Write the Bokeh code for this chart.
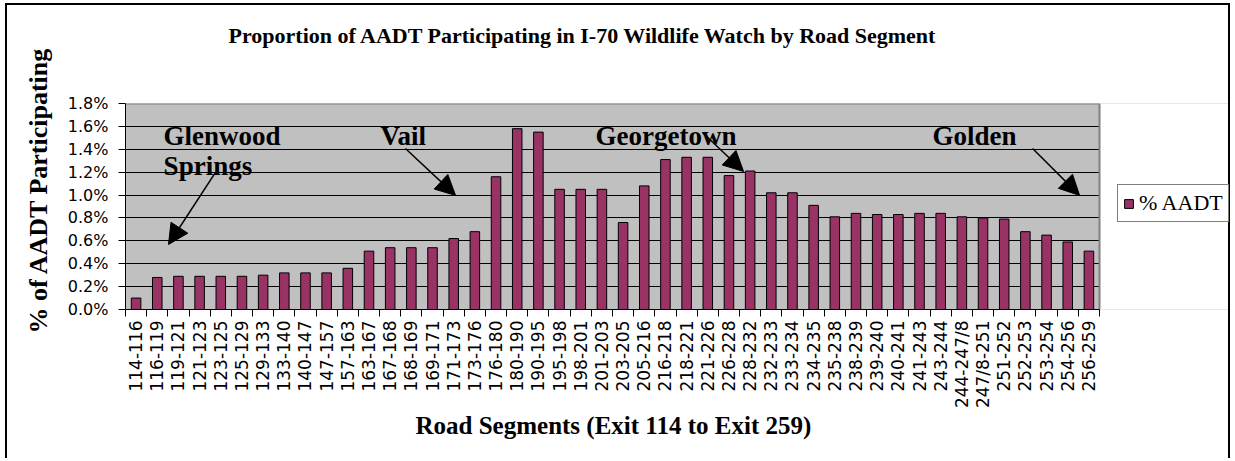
import numpy as np
from bokeh.plotting import figure
from bokeh.models import (Range1d, FixedTicker, PrintfTickFormatter, Title,
                          Label, Arrow, NormalHead, Legend, LegendItem)
from bokeh.embed import file_html
from bokeh.resources import INLINE

# ---------------- data ----------------
segments = ["114-116", "116-119", "119-121", "121-123", "123-125", "125-129", "129-133",
            "133-140", "140-147", "147-157", "157-163", "163-167", "167-168", "168-169",
            "169-171", "171-173", "173-176", "176-180", "180-190", "190-195", "195-198",
            "198-201", "201-203", "203-205", "205-216", "216-218", "218-221", "221-226",
            "226-228", "228-232", "232-233", "233-234", "234-235", "235-238", "238-239",
            "239-240", "240-241", "241-243", "243-244", "244-247/8", "247/8-251",
            "251-252", "252-253", "253-254", "254-256", "256-259"]
pct_aadt = [0.10, 0.28, 0.29, 0.29, 0.29, 0.29, 0.30,
            0.32, 0.32, 0.32, 0.36, 0.51, 0.54, 0.54,
            0.54, 0.62, 0.68, 1.16, 1.58, 1.55, 1.05,
            1.05, 1.05, 0.76, 1.08, 1.31, 1.33, 1.33,
            1.17, 1.21, 1.02, 1.02, 0.91, 0.81, 0.84,
            0.83, 0.83, 0.84, 0.84, 0.81, 0.80,
            0.79, 0.68, 0.65, 0.59, 0.51]
y_ticks = [0.0, 0.2, 0.4, 0.6, 0.8, 1.0, 1.2, 1.4, 1.6, 1.8]
series_name = "% AADT"
title_text = "Proportion of AADT Participating in I-70 Wildlife Watch by Road Segment"
x_title = "Road Segments (Exit 114 to Exit 259)"
y_title = "% of AADT Participating"
towns = ["Glenwood", "Springs", "Vail", "Georgetown", "Golden"]

n = len(segments)
xpos = np.arange(n) + 0.5
ymax = y_ticks[-1]

# layout (pixels)
W, H = 1225, 455
FRAME_L = 118
BAR_AREA_PX = 974          # width of the grey plotting area
x_end = n * (W - FRAME_L) / BAR_AREA_PX   # frame extends right to host the legend

p = figure(width=W, height=H, output_backend="svg", toolbar_location=None,
           x_range=Range1d(0, x_end), y_range=Range1d(0, ymax),
           min_border_left=FRAME_L, min_border_right=0, min_border_top=98,
           min_border_bottom=151)
p.styles = {"border": "2px solid black", "border-bottom": "none",
            "margin-left": "5px", "margin-top": "3px"}
p.background_fill_color = "#c0c0c0"
p.border_fill_color = "white"
p.outline_line_color = None

# spacer (nearest the frame) + title above it
p.add_layout(Title(text=" ", text_font_size="2px", standoff=42), "above")
p.title.text = title_text
p.title.align = "left"
p.title.offset = 103
p.title.vertical_align = "bottom"
p.title.standoff = 20
p.title.text_font = "Liberation Serif"
p.title.text_font_style = "bold"
p.title.text_font_size = "22px"
p.title.text_color = "black"

# white area right of the chart area (covers grid there)
p.quad(left=[n], right=[x_end], bottom=[0], top=[ymax], fill_color="white",
       line_color=None)
# grey top / right border of the chart area
p.segment(x0=[0, n], y0=[ymax, 0], x1=[n, n], y1=[ymax, ymax],
          line_color="#808080", line_width=2)

bars = p.vbar(x=xpos, top=pct_aadt, width=0.45, fill_color="#993366",
              line_color="black", line_width=1)

# axes
xa = p.xaxis[0]
xa.bounds = (0, n)
xa.ticker = FixedTicker(ticks=list(xpos), minor_ticks=list(np.arange(n + 1)))
xa.major_label_overrides = {float(x): s for x, s in zip(xpos, segments)}
xa.major_label_orientation = np.pi / 2
xa.major_tick_out = 0
xa.major_tick_in = 0
xa.minor_tick_out = 7
xa.minor_tick_in = 0
xa.minor_tick_line_color = "black"
xa.axis_line_color = "black"
xa.major_label_standoff = 4
xa.major_label_text_font = "DejaVu Sans"
xa.major_label_text_font_size = "17px"
xa.major_label_text_color = "black"

# x-axis title as a below-title, aligned under the chart area
p.add_layout(Title(text=x_title, align="left", offset=290, vertical_align="top",
                   standoff=0, text_font="Liberation Serif", text_font_style="bold",
                   text_font_size="25px", text_color="black"), "below")

ya = p.yaxis[0]
ya.ticker = FixedTicker(ticks=y_ticks)
ya.formatter = PrintfTickFormatter(format="%.1f%%")
ya.major_tick_out = 7
ya.major_tick_in = 0
ya.minor_tick_out = 0
ya.minor_tick_in = 0
ya.major_tick_line_color = "black"
ya.axis_line_color = "black"
ya.major_label_standoff = 10
ya.major_label_text_font = "DejaVu Sans"
ya.major_label_text_font_size = "16px"
ya.major_label_text_color = "black"

# y-axis title as a left-side title, positioned like the reference
p.add_layout(Title(text=y_title, align="left", offset=-24, vertical_align="bottom",
                   standoff=24, text_font="Liberation Serif", text_font_style="bold",
                   text_font_size="26px", text_color="black"), "left")

p.xgrid.visible = False
p.ygrid.ticker = FixedTicker(ticks=y_ticks[1:-1])
p.ygrid.grid_line_color = "black"
p.ygrid.grid_line_width = 1

# town annotations
ann_font = dict(text_font="Liberation Serif", text_font_style="bold",
                text_font_size="27px", text_color="black", text_baseline="alphabetic")
p.add_layout(Label(x=1.8, y=1.52, text=towns[0], **ann_font))
p.add_layout(Label(x=1.8, y=1.25, text=towns[1], **ann_font))
p.add_layout(Label(x=12.04, y=1.52, text=towns[2], **ann_font))
p.add_layout(Label(x=22.2, y=1.52, text=towns[3], **ann_font))
p.add_layout(Label(x=38.11, y=1.52, text=towns[4], **ann_font))

def arrow(x0, y0, x1, y1):
    p.add_layout(Arrow(x_start=x0, y_start=y0, x_end=x1, y_end=y1, line_width=1.5,
                       line_color="black",
                       end=NormalHead(size=20, fill_color="black", line_color="black")))

arrow(4.25, 1.198, 2.03, 0.568)
arrow(13.22, 1.407, 15.59, 0.997)
arrow(27.25, 1.547, 29.19, 1.206)
arrow(42.84, 1.407, 45.06, 0.997)

legend = Legend(items=[LegendItem(label=series_name, renderers=[bars])],
                location=(992, 87), border_line_color="black", border_line_width=1,
                background_fill_color="white", background_fill_alpha=1,
                label_text_font="Liberation Serif", label_text_font_size="22px",
                label_text_color="black", glyph_width=11, glyph_height=11,
                padding=5, spacing=0, margin=0, label_standoff=5)
p.add_layout(legend, "center")

open("out.html", "w").write(file_html(p, INLINE))
